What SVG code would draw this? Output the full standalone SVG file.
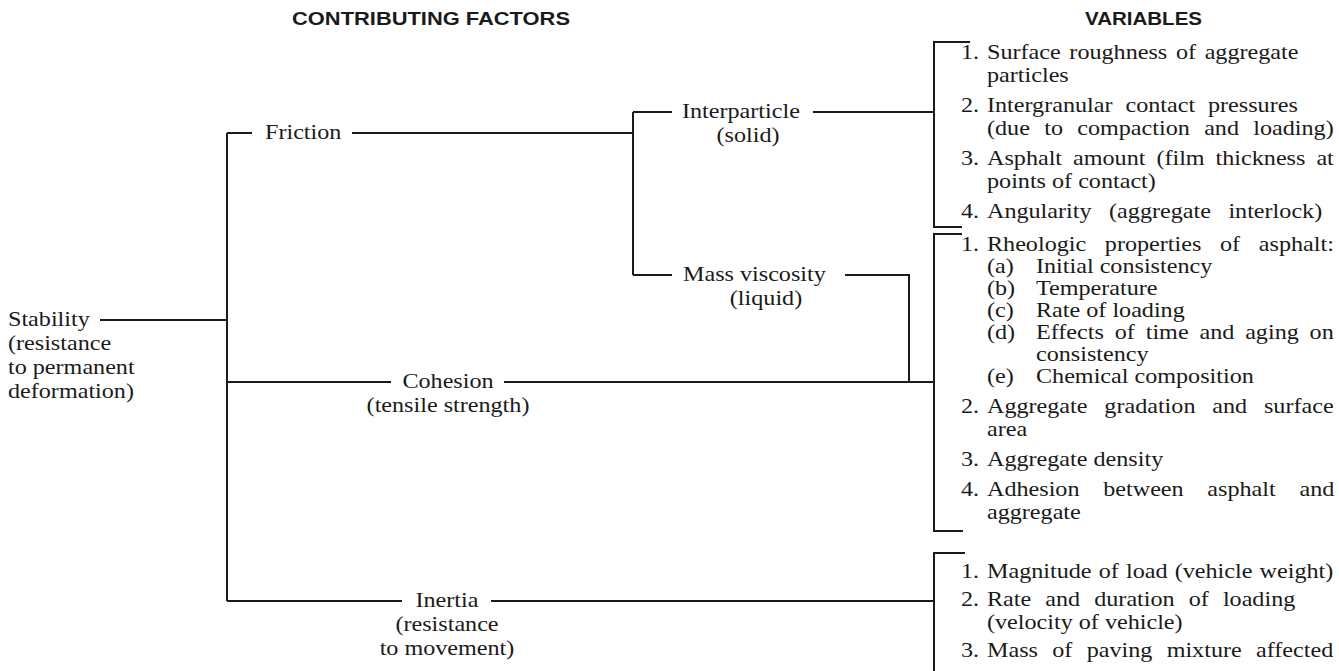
<svg xmlns="http://www.w3.org/2000/svg" width="1339" height="671" viewBox="0 0 1339 671">
<style>
.t{font-family:"Liberation Serif","Times New Roman",serif;font-size:21px;fill:#1a1a1a}
.h{font-family:"Liberation Sans",Arial,sans-serif;font-size:18px;font-weight:bold;fill:#1a1a1a}
.ln{stroke:#1a1a1a;stroke-width:2;fill:none}
.m{text-anchor:middle}
</style>
<rect width="1339" height="671" fill="#ffffff"/>
<g id="headers">
<text class="h" x="292" y="25" textLength="278" lengthAdjust="spacingAndGlyphs">CONTRIBUTING FACTORS</text>
<text class="h" x="1085" y="25" textLength="117" lengthAdjust="spacingAndGlyphs">VARIABLES</text>
</g>
<g id="connectors">
<path class="ln" d="M100 320H227M227 133V601M227 133H252M352 133H633M633 112V275M633 112H672M633 275H672M813 112H934M845 275H909V382M227 382H391M504 382H934M227 601H402M491 601H934"/>
</g>
<g id="stability">
<text class="t" transform="matrix(1.15 0 0 1 8 326)">Stability</text>
<text class="t" transform="matrix(1.15 0 0 1 8 350)">(resistance</text>
<text class="t" transform="matrix(1.15 0 0 1 8 374)">to permanent</text>
<text class="t" transform="matrix(1.15 0 0 1 8 398)">deformation)</text>
</g>
<g id="friction">
<text class="t" transform="matrix(1.15 0 0 1 265 139)">Friction</text>
</g>
<g id="interparticle">
<text class="t" transform="matrix(1.15 0 0 1 682 118)">Interparticle</text>
<text class="t m" transform="matrix(1.15 0 0 1 748 142)">(solid)</text>
</g>
<g id="mass-viscosity">
<text class="t" transform="matrix(1.15 0 0 1 683 281)">Mass viscosity</text>
<text class="t m" transform="matrix(1.15 0 0 1 766 305)">(liquid)</text>
</g>
<g id="cohesion">
<text class="t m" transform="matrix(1.15 0 0 1 448 388)">Cohesion</text>
<text class="t m" transform="matrix(1.15 0 0 1 448 412)">(tensile strength)</text>
</g>
<g id="inertia">
<text class="t m" transform="matrix(1.15 0 0 1 447 607)">Inertia</text>
<text class="t m" transform="matrix(1.15 0 0 1 447 631)">(resistance</text>
<text class="t m" transform="matrix(1.15 0 0 1 447 655)">to movement)</text>
</g>
<g id="variables-friction">
<path class="ln" d="M970 42H934V227H962"/>
<text class="t" transform="matrix(1.15 0 0 1 961 59)">1.</text>
<text class="t" transform="matrix(1.15 0 0 1 987 59)" word-spacing="2.3">Surface roughness of aggregate</text>
<text class="t" transform="matrix(1.15 0 0 1 987 82)">particles</text>
<text class="t" transform="matrix(1.15 0 0 1 961 112)">2.</text>
<text class="t" transform="matrix(1.15 0 0 1 987 112)" word-spacing="6">Intergranular contact pressures</text>
<text class="t" transform="matrix(1.15 0 0 1 987 135)" word-spacing="7.2">(due to compaction and loading)</text>
<text class="t" transform="matrix(1.15 0 0 1 961 165)">3.</text>
<text class="t" transform="matrix(1.15 0 0 1 987 165)" word-spacing="4.3">Asphalt amount (film thickness at</text>
<text class="t" transform="matrix(1.15 0 0 1 987 188)">points of contact)</text>
<text class="t" transform="matrix(1.15 0 0 1 961 218)">4.</text>
<text class="t" transform="matrix(1.15 0 0 1 987 218)" word-spacing="10">Angularity (aggregate interlock)</text>
</g>
<g id="variables-cohesion">
<path class="ln" d="M962 234H934V531H963"/>
<text class="t" transform="matrix(1.15 0 0 1 961 251)">1.</text>
<text class="t" transform="matrix(1.15 0 0 1 987 251)" word-spacing="11">Rheologic properties of asphalt:</text>
<text class="t" transform="matrix(1.15 0 0 1 987 273)">(a)</text>
<text class="t" transform="matrix(1.15 0 0 1 1036 273)">Initial consistency</text>
<text class="t" transform="matrix(1.15 0 0 1 987 295)">(b)</text>
<text class="t" transform="matrix(1.15 0 0 1 1036 295)">Temperature</text>
<text class="t" transform="matrix(1.15 0 0 1 987 317)">(c)</text>
<text class="t" transform="matrix(1.15 0 0 1 1036 317)">Rate of loading</text>
<text class="t" transform="matrix(1.15 0 0 1 987 339)">(d)</text>
<text class="t" transform="matrix(1.15 0 0 1 1036 339)" word-spacing="4.2">Effects of time and aging on</text>
<text class="t" transform="matrix(1.15 0 0 1 1036 361)">consistency</text>
<text class="t" transform="matrix(1.15 0 0 1 987 383)">(e)</text>
<text class="t" transform="matrix(1.15 0 0 1 1036 383)">Chemical composition</text>
<text class="t" transform="matrix(1.15 0 0 1 961 413)">2.</text>
<text class="t" transform="matrix(1.15 0 0 1 987 413)" word-spacing="9.4">Aggregate gradation and surface</text>
<text class="t" transform="matrix(1.15 0 0 1 987 436)">area</text>
<text class="t" transform="matrix(1.15 0 0 1 961 466)">3.</text>
<text class="t" transform="matrix(1.15 0 0 1 987 466)">Aggregate density</text>
<text class="t" transform="matrix(1.15 0 0 1 961 496)">4.</text>
<text class="t" transform="matrix(1.15 0 0 1 987 496)" word-spacing="15.4">Adhesion between asphalt and</text>
<text class="t" transform="matrix(1.15 0 0 1 987 519)">aggregate</text>
</g>
<g id="variables-inertia">
<path class="ln" d="M965 553H934V671"/>
<text class="t" transform="matrix(1.15 0 0 1 961 578)">1.</text>
<text class="t" transform="matrix(1.15 0 0 1 987 578)" word-spacing="1">Magnitude of load (vehicle weight)</text>
<text class="t" transform="matrix(1.15 0 0 1 961 606)">2.</text>
<text class="t" transform="matrix(1.15 0 0 1 987 606)" word-spacing="7">Rate and duration of loading</text>
<text class="t" transform="matrix(1.15 0 0 1 987 629)">(velocity of vehicle)</text>
<text class="t" transform="matrix(1.15 0 0 1 961 657)">3.</text>
<text class="t" transform="matrix(1.15 0 0 1 987 657)" word-spacing="7.2">Mass of paving mixture affected</text>
</g>
</svg>
